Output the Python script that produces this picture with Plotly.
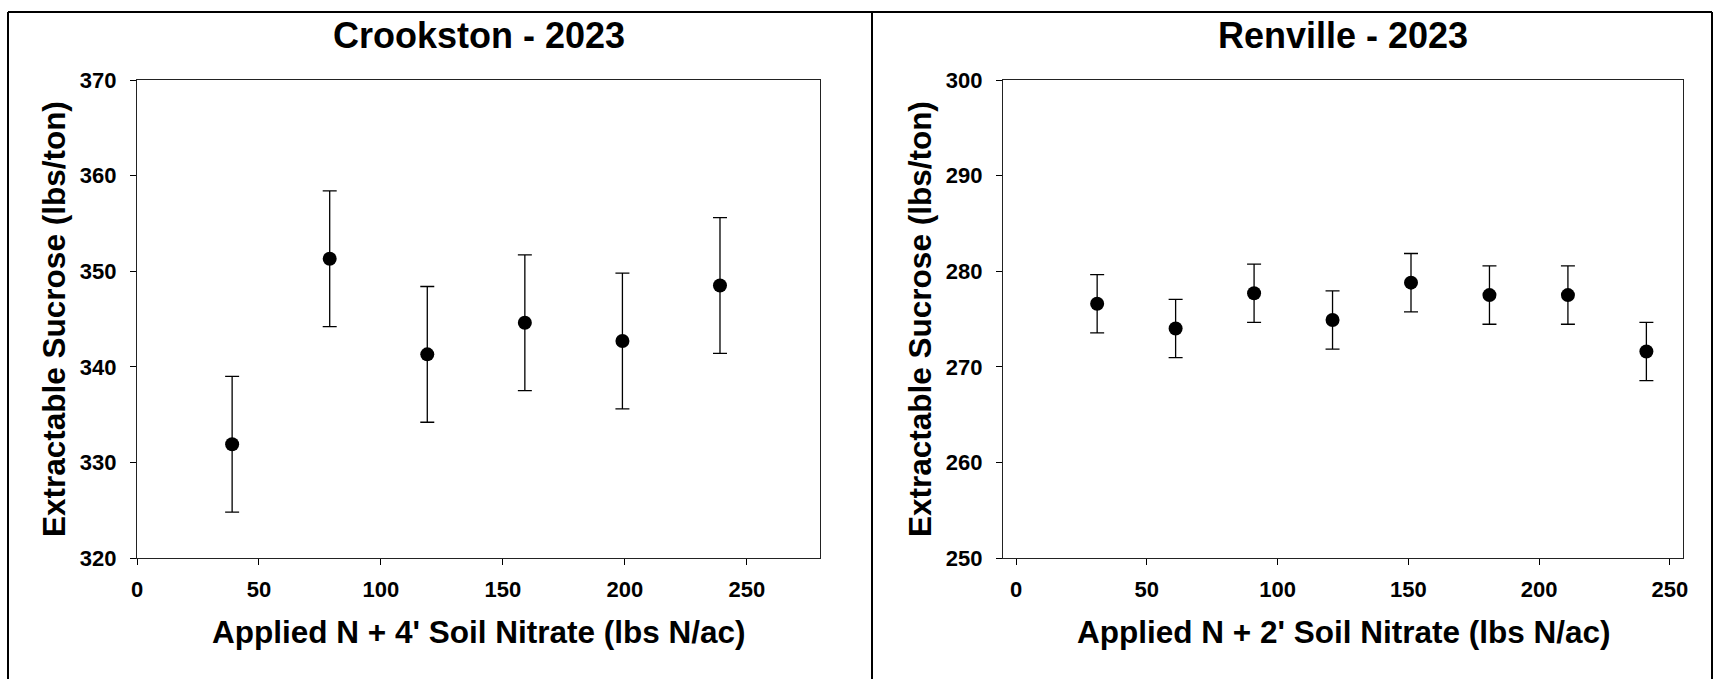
import plotly.graph_objects as go

W, H = 1716, 679

# Crookston - 2023
crk_x = [39, 79, 119, 159, 199, 239]
crk_y = [331.9, 351.3, 341.3, 344.6, 342.7, 348.5]
crk_err = [7.1, 7.1, 7.1, 7.1, 7.1, 7.1]

# Renville - 2023
ren_x = [31, 61, 91, 121, 151, 181, 211, 241]
ren_y = [276.6, 274.0, 277.7, 274.9, 278.8, 277.5, 277.5, 271.6]
ren_err = [3.05, 3.05, 3.05, 3.05, 3.05, 3.05, 3.05, 3.05]

x_ticks = [0, 50, 100, 150, 200, 250]
crk_yticks = [320, 330, 340, 350, 360, 370]
ren_yticks = [250, 260, 270, 280, 290, 300]

FONT = "Liberation Sans, Arial, sans-serif"

def px_x(v):
    return v / W

def px_y(v):
    return 1 - v / H

fig = go.Figure()

fig.add_trace(go.Scatter(
    x=crk_x, y=crk_y, mode="markers",
    marker=dict(size=14, color="black"),
    error_y=dict(type="data", array=crk_err, color="black", thickness=1.3, width=7),
    xaxis="x", yaxis="y", showlegend=False))

fig.add_trace(go.Scatter(
    x=ren_x, y=ren_y, mode="markers",
    marker=dict(size=14, color="black"),
    error_y=dict(type="data", array=ren_err, color="black", thickness=1.3, width=7),
    xaxis="x2", yaxis="y2", showlegend=False))

tickfont = dict(family=FONT, size=22, color="black", weight="bold")
common = dict(showgrid=False, zeroline=False, showline=True, linecolor="#222",
              linewidth=1.3, mirror=True, ticks="outside", ticklen=6, tickwidth=1.3,
              tickcolor="black", tickfont=tickfont, automargin=False)

L1, R1 = 137, 820
L2, R2 = 1003, 1683
TOP, BOT = 80, 558

fig.update_layout(
    width=W, height=H, autosize=False,
    margin=dict(l=0, r=0, t=0, b=0, pad=0, autoexpand=False),
    paper_bgcolor="white", plot_bgcolor="white",
    xaxis=dict(domain=[px_x(L1), px_x(R1)], range=[0, 280], tickvals=x_ticks,
               anchor="y", ticklabelstandoff=5, **common),
    yaxis=dict(domain=[px_y(BOT), px_y(TOP)], range=[320, 370], tickvals=crk_yticks,
               anchor="x", ticklabelstandoff=9, **common),
    xaxis2=dict(domain=[px_x(L2), px_x(R2)], range=[-5, 255], tickvals=x_ticks,
                anchor="y2", ticklabelstandoff=5, **common),
    yaxis2=dict(domain=[px_y(BOT), px_y(TOP)], range=[250, 300], tickvals=ren_yticks,
                anchor="x2", ticklabelstandoff=9, **common),
)

titlefont = dict(family=FONT, size=36, color="black", weight="bold")
axfont = dict(family=FONT, size=31.5, color="black", weight="bold")

ann = []
for (L, R, title, xt) in [(L1, R1, "Crookston - 2023", "Applied N + 4' Soil Nitrate (lbs N/ac)"),
                          (L2, R2, "Renville - 2023", "Applied N + 2' Soil Nitrate (lbs N/ac)")]:
    cx = px_x((L + R) / 2)
    ann.append(dict(x=cx, y=px_y(35), xref="paper", yref="paper", text=title,
                    showarrow=False, font=titlefont, xanchor="center", yanchor="middle"))
    ann.append(dict(x=cx, y=px_y(632), xref="paper", yref="paper", text=xt,
                    showarrow=False, font=axfont, xanchor="center", yanchor="middle"))
for yx in [54, 920]:
    ann.append(dict(x=px_x(yx), y=px_y((TOP + BOT) / 2), xref="paper", yref="paper",
                    text="Extractable Sucrose (lbs/ton)", textangle=-90,
                    showarrow=False, font=axfont, xanchor="center", yanchor="middle"))
fig.update_layout(annotations=ann)

# panel borders
shapes = []
for x0 in [8, 872, 1712]:
    shapes.append(dict(type="line", xref="paper", yref="paper",
                       x0=px_x(x0), x1=px_x(x0), y0=0, y1=px_y(12),
                       line=dict(color="black", width=2)))
shapes.append(dict(type="line", xref="paper", yref="paper",
                   x0=px_x(8), x1=px_x(1712), y0=px_y(12), y1=px_y(12),
                   line=dict(color="black", width=2)))
fig.update_layout(shapes=shapes)

post = ("document.body.style.margin='0';document.body.style.padding='0';"
        "document.documentElement.style.overflow='hidden';document.body.style.overflow='hidden';")
fig.write_html("out.html", post_script=post)
